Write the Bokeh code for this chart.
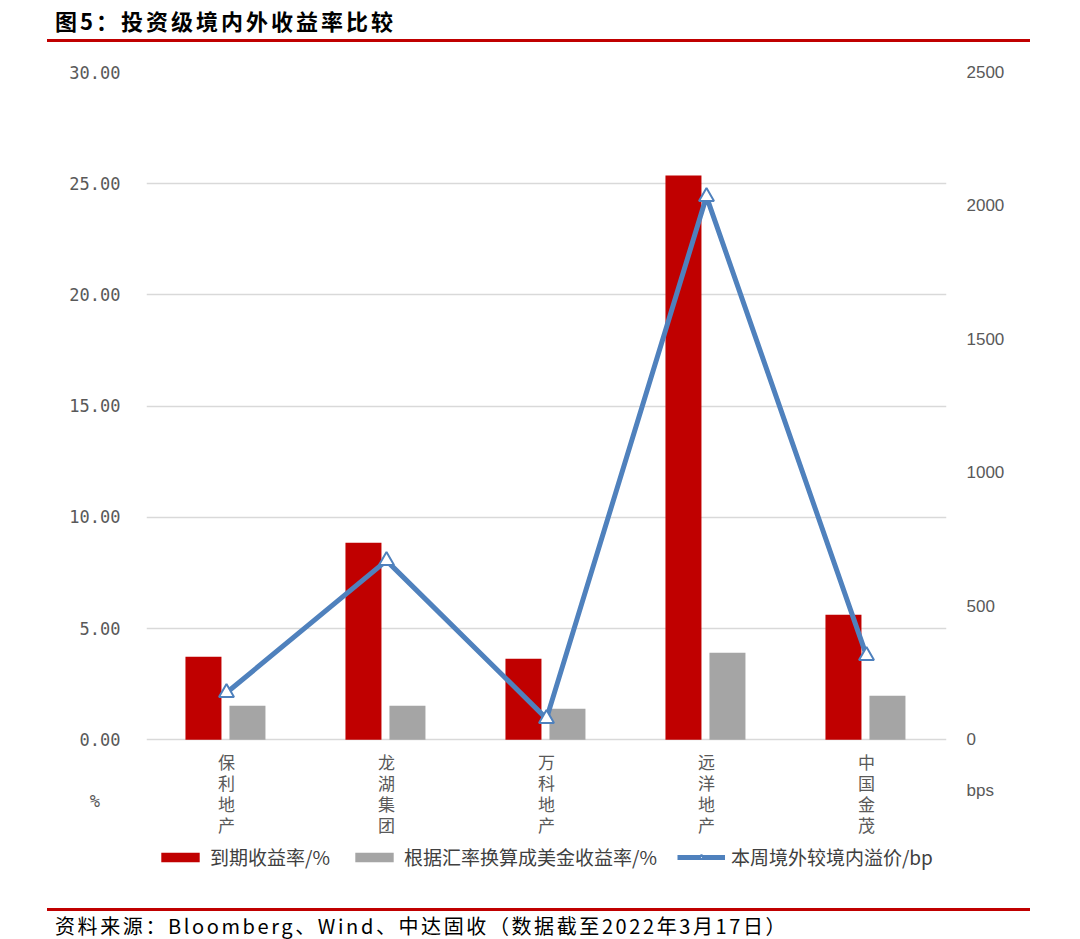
from bokeh.plotting import figure
from bokeh.models import (FactorRange, Range1d, LinearAxis, Legend, LegendItem,
                          Div, FixedTicker, NumeralTickFormatter, ColumnDataSource)
from bokeh.transform import dodge
from bokeh.layouts import column
from bokeh.core.properties import value
from bokeh.embed import file_html
from bokeh.resources import INLINE

companies = ["保利地产", "龙湖集团", "万科地产", "远洋地产", "中国金茂"]
ytm = [3.73, 8.86, 3.64, 25.37, 5.62]          # 到期收益率/%
usd_yield = [1.53, 1.53, 1.39, 3.91, 1.98]     # 根据汇率换算成美金收益率/%
spread_bp = [176, 671, 79, 2035, 315]          # 本周境外较境内溢价/bp
left_ticks = [0, 5, 10, 15, 20, 25, 30]
right_ticks = [0, 500, 1000, 1500, 2000, 2500]
left_unit = "%"
right_unit = "bps"

src = ColumnDataSource(dict(cat=companies, ytm=ytm, usd=usd_yield, bp=spread_bp))

CJK = "Noto Sans CJK SC"
RED = "#c00000"
GRAY = "#a5a5a5"
BLUE = "#4f81bd"

# frame extends below zero so the category labels and legend live inside it
Y_MIN = -6.6
p = figure(x_range=FactorRange(*companies), y_range=Range1d(Y_MIN, 30),
           width=1064, height=840, output_backend="svg", toolbar_location=None,
           min_border_left=146, min_border_right=118, min_border_top=21,
           min_border_bottom=5, outline_line_color=None)
p.extra_y_ranges = {"bp": Range1d(Y_MIN * 2500 / 30, 2500)}

r_red = p.vbar(x=dodge("cat", -0.144, range=p.x_range), top="ytm", width=0.225,
               source=src, fill_color=RED, line_color=None)
r_gray = p.vbar(x=dodge("cat", 0.131, range=p.x_range), top="usd", width=0.225,
                source=src, fill_color=GRAY, line_color=None)
r_line = p.line(x="cat", y="bp", source=src, y_range_name="bp",
                line_color=BLUE, line_width=5)
r_mk = p.scatter(x="cat", y="bp", source=src, y_range_name="bp", marker="triangle",
                 size=15, fill_color="white", line_color=BLUE, line_width=2)

# vertical (stacked) category labels
lx, ly, lt = [], [], []
for c in companies:
    for i, ch in enumerate(c):
        lx.append(c)
        ly.append(-0.98 - i * 0.944)
        lt.append(ch)
p.text(x=lx, y=ly, text=lt, text_align="center", text_baseline="middle",
       text_font=value(CJK), text_font_size="17px", text_color="#595959")

# axes
unit_y_left = -2.74
unit_y_right = -2.29 * 2500 / 30
p.yaxis.ticker = FixedTicker(ticks=left_ticks + [unit_y_left])
p.yaxis.formatter = NumeralTickFormatter(format="0.00")
p.yaxis.major_label_overrides = {unit_y_left: left_unit + "\u00a0\u00a0"}
ax_r = LinearAxis(y_range_name="bp", ticker=FixedTicker(ticks=right_ticks + [unit_y_right]),
                  major_label_overrides={unit_y_right: right_unit})
p.add_layout(ax_r, "right")
p.xaxis.visible = False

for ax in p.yaxis + [ax_r]:
    ax.axis_line_color = None
    ax.major_tick_line_color = None
    ax.minor_tick_line_color = None
    ax.major_label_text_color = "#595959"
    ax.major_label_text_font_size = "17px"
p.yaxis[0].major_label_text_font = "DejaVu Sans Mono"
p.yaxis[0].major_label_standoff = 20
ax_r.major_label_text_font = "Liberation Sans"
ax_r.major_label_standoff = 14

p.xgrid.grid_line_color = None
p.ygrid.ticker = FixedTicker(ticks=left_ticks)
p.ygrid.grid_line_color = "#d9d9d9"
p.ygrid.grid_line_width = 1.5

legend = Legend(items=[
    LegendItem(label="到期收益率/%", renderers=[r_red]),
    LegendItem(label="根据汇率换算成美金收益率/%", renderers=[r_gray]),
    LegendItem(label="本周境外较境内溢价/bp", renderers=[r_line, r_mk]),
], orientation="horizontal", location=(10, 16), border_line_color=None,
    background_fill_alpha=0, glyph_width=48, glyph_height=12, label_standoff=6,
    spacing=20, label_text_font=CJK, label_text_font_size="19px",
    label_text_color="#404040", margin=0, padding=2)
p.add_layout(legend)

title = Div(width=1064, height=41, text=(
    '<div style="margin-left:42px;width:983px;height:37px;border-bottom:3px solid #c00000;'
    'font-family:\'Noto Sans CJK SC\';font-weight:bold;font-size:22px;line-height:30px;'
    'letter-spacing:3px;color:#000;padding-left:8px;box-sizing:border-box;">'
    '图5：投资级境内外收益率比较</div>'))
source_div = Div(width=1064, height=38, text=(
    '<div style="margin-left:42px;width:983px;margin-top:12px;border-top:3px solid #c00000;'
    'font-family:\'Noto Sans CJK SC\';font-size:20px;line-height:30px;letter-spacing:2.6px;'
    'color:#000;padding-left:8px;box-sizing:border-box;">'
    '资料来源：Bloomberg、Wind、中达固收（数据截至2022年3月17日）</div>'))

layout = column(title, p, source_div, spacing=0)
open("out.html", "w").write(file_html(layout, INLINE))
